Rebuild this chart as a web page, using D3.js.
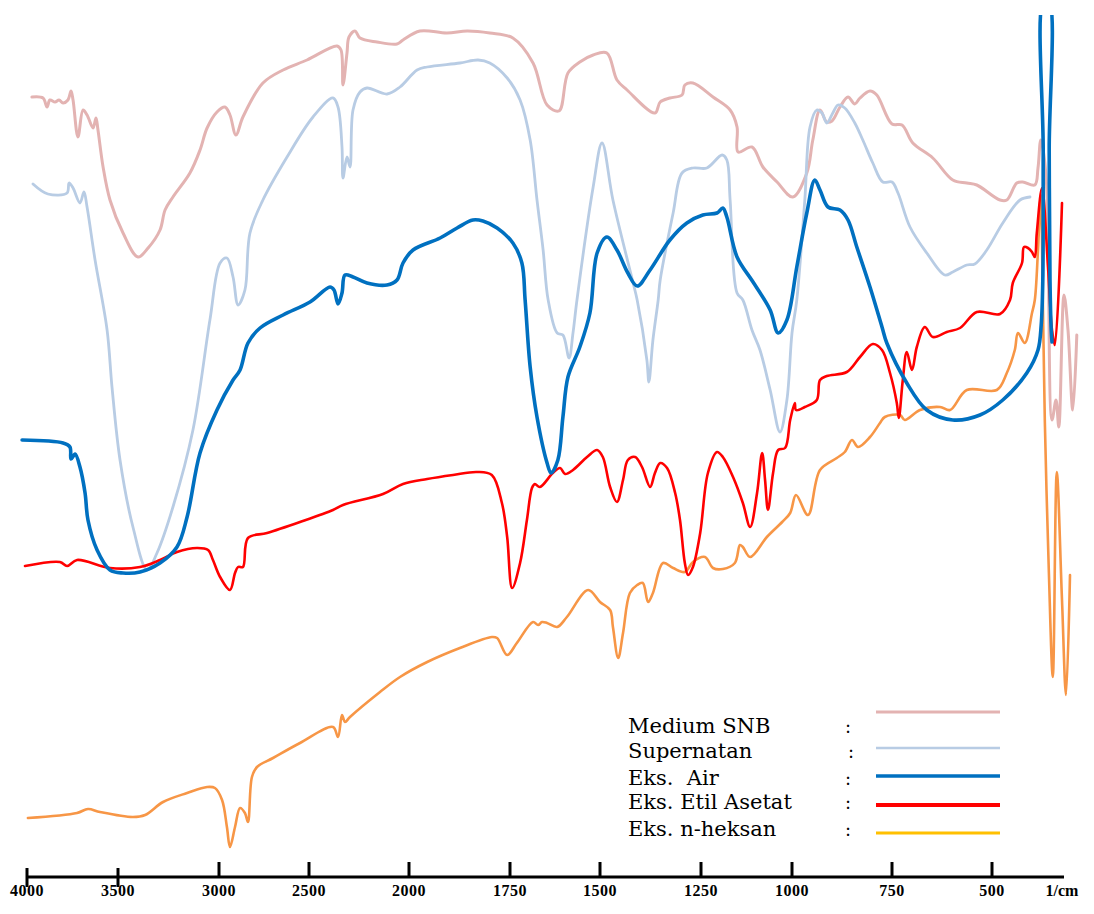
<!DOCTYPE html>
<html>
<head>
<meta charset="utf-8">
<script src="https://cdn.jsdelivr.net/npm/d3@7"></script>
<style>
  html, body { margin: 0; padding: 0; background: #ffffff; }
  svg { display: block; }
</style>
</head>
<body>
<svg id="chart" width="1094" height="914"></svg>
<script>
// ---------------- DATA ----------------
const wavenumberTicks = [4000, 3500, 3000, 2500, 2000, 1750, 1500, 1250, 1000, 750, 500];
const tickLabels = ["4000", "3500", "3000", "2500", "2000", "1750", "1500", "1250", "1000", "750", "500"];
const unitLabel = "1/cm";
const axisEndWavenumber = 320;

const seriesNames = ["Medium SNB", "Supernatan", "Eks.  Air", "Eks. Etil Asetat", "Eks. n-heksan"];

// [wavenumber (1/cm), relative transmittance]
const mediumSNB = [
  [3973,80.3],[3912,80.2],[3890,79.3],[3874,80.0],[3846,79.8],[3824,80.0],[3802,79.7],[3775,80.0],
  [3758,80.9],[3747,80.0],[3720,76.3],[3692,79.0],[3670,78.5],[3637,77.2],[3621,78.2],[3610,77.0],
  [3582,73.3],[3544,70.0],[3475,66.7],[3401,64.3],[3351,65.2],[3292,67.0],[3267,69.0],[3228,70.3],
  [3144,72.7],[3094,75.0],[3059,77.2],[3010,78.8],[2967,79.3],[2939,78.5],[2906,76.5],[2867,78.3],
  [2756,81.7],[2644,83.0],[2511,84.0],[2360,85.4],[2340,85.0],[2330,81.5],[2310,84.7],[2300,86.3],
  [2270,86.9],[2245,86.2],[2160,85.8],[2060,85.6],[2030,86.0],[1973,86.9],[1906,86.7],[1856,86.9],
  [1800,86.7],[1742,86.2],[1686,83.7],[1647,79.5],[1614,78.9],[1589,82.7],[1556,83.8],[1519,84.5],
  [1483,84.7],[1458,82.0],[1433,81.0],[1364,78.7],[1351,79.8],[1327,80.2],[1297,80.5],[1290,81.5],
  [1270,81.7],[1217,80.3],[1170,79.0],[1151,77.3],[1148,74.8],[1110,75.3],[1080,73.3],[1041,71.8],
  [998,70.3],[963,72.7],[948,76.0],[930,79.0],[913,77.8],[900,77.9],[880,79.3],[860,80.3],
  [843,79.6],[830,80.2],[805,80.9],[788,80.5],[750,77.6],[725,77.5],[698,75.7],[648,74.2],
  [598,72.0],[563,71.7],[538,71.5],[480,70.0],[463,70.0],[438,71.7],[423,71.8],[393,71.5],
  [385,73.2],[378,76.0],[365,72.5],[350,48.0],[340,50.0],[333,47.3],[320,60.5],[310,57.0],
  [298,49.0],[288,56.5]
];

const supernatan = [
  [3967,71.6],[3885,70.6],[3780,70.7],[3769,71.7],[3747,71.2],[3709,69.7],[3687,70.8],[3670,69.3],
  [3626,64.0],[3560,57.0],[3533,51.3],[3490,44.0],[3426,37.3],[3356,33.0],[3307,34.7],[3228,39.3],
  [3129,47.0],[3045,58.0],[2994,63.7],[2956,64.2],[2922,62.3],[2894,59.5],[2856,61.0],[2828,66.7],
  [2756,70.0],[2622,74.3],[2480,78.3],[2380,80.2],[2355,79.3],[2335,75.3],[2330,72.2],[2310,74.3],
  [2295,73.3],[2280,79.0],[2245,80.8],[2210,81.2],[2110,80.6],[2045,81.3],[1980,83.0],[1955,83.3],
  [1874,83.7],[1829,84.0],[1800,83.7],[1757,82.2],[1722,80.0],[1694,76.0],[1675,70.0],[1658,65.0],
  [1644,60.0],[1619,56.7],[1603,56.5],[1586,54.2],[1575,56.7],[1564,60.0],[1519,71.3],[1495,75.7],
  [1468,70.0],[1418,61.7],[1408,60.0],[1384,54.0],[1379,51.8],[1369,56.0],[1356,60.0],[1351,62.0],
  [1319,68.7],[1297,72.7],[1270,73.2],[1234,73.2],[1192,74.5],[1179,74.0],[1170,70.0],[1151,60.7],
  [1135,60.0],[1110,57.0],[1088,55.0],[1060,51.0],[1033,46.8],[1014,50.0],[1000,56.7],[988,60.0],
  [968,70.0],[955,77.3],[938,79.0],[925,78.7],[913,77.7],[898,78.7],[885,79.5],[868,79.2],
  [843,77.7],[823,76.0],[798,73.7],[773,71.8],[750,71.8],[735,70.7],[705,67.3],[663,64.7],
  [618,62.5],[598,62.8],[563,63.5],[543,63.6],[513,65.0],[473,67.7],[430,70.0],[405,70.3]
];

const eksAir = [
  [4027,46.0],[3802,45.7],[3764,45.3],[3758,44.1],[3736,44.6],[3709,43.3],[3681,40.7],[3665,38.0],
  [3615,35.0],[3544,33.0],[3475,32.7],[3391,32.8],[3292,33.7],[3208,35.3],[3158,38.3],[3094,44.7],
  [3010,49.0],[2922,52.0],[2883,53.0],[2839,55.7],[2772,57.2],[2644,58.5],[2495,59.8],[2395,61.3],
  [2375,61.0],[2355,59.6],[2335,60.7],[2320,62.5],[2280,62.3],[2210,61.7],[2110,61.5],[2060,62.0],
  [2030,63.7],[1990,65.0],[1923,66.2],[1881,67.2],[1842,68.0],[1817,67.9],[1782,67.2],[1742,65.7],
  [1717,63.7],[1708,60.0],[1694,53.3],[1675,48.3],[1647,43.7],[1636,42.7],[1617,44.0],[1603,48.3],
  [1589,52.3],[1556,55.3],[1528,58.7],[1508,64.7],[1483,66.3],[1458,65.0],[1431,62.7],[1408,61.4],
  [1376,63.0],[1327,66.0],[1285,67.7],[1245,68.5],[1206,68.7],[1190,69.2],[1179,68.3],[1151,64.3],
  [1107,61.8],[1060,59.0],[1038,56.7],[1014,58.0],[988,63.3],[963,68.7],[943,72.0],[930,71.0],
  [910,69.3],[880,69.0],[860,68.0],[838,65.3],[805,61.3],[775,57.3],[763,55.7],[713,51.7],
  [663,49.0],[598,48.0],[530,48.5],[473,50.0],[413,52.7],[385,55.0],[377,57.5],[373,62.0],
  [372,75.0],[371,90.0],[358,90.0],[357,75.0],[355,62.0],[352,57.0],[350,55.8]
];

const eksEtilAsetat = [
  [4011,33.4],[3819,33.8],[3780,33.4],[3725,34.0],[3544,33.2],[3391,33.3],[3292,34.0],[3208,34.8],
  [3109,35.2],[3054,35.0],[3030,34.0],[2994,32.3],[2939,31.0],[2911,32.7],[2894,33.3],[2867,33.3],
  [2839,36.2],[2733,36.7],[2550,37.8],[2380,39.0],[2330,39.5],[2130,40.6],[2030,41.6],[1955,42.1],
  [1891,42.5],[1832,42.8],[1795,42.5],[1770,39.7],[1757,36.3],[1744,31.2],[1722,33.7],[1703,38.0],
  [1689,41.2],[1681,41.6],[1667,41.3],[1631,42.7],[1611,43.2],[1597,42.6],[1575,43.0],[1536,44.3],
  [1508,45.0],[1493,44.3],[1475,41.3],[1458,39.8],[1443,42.0],[1431,44.0],[1413,44.3],[1396,43.3],
  [1376,41.3],[1364,42.7],[1351,43.7],[1334,43.2],[1314,40.7],[1302,38.0],[1290,33.7],[1282,32.5],
  [1270,33.3],[1252,36.7],[1231,42.7],[1206,44.8],[1190,44.3],[1162,42.3],[1135,39.7],[1115,37.3],
  [1096,40.7],[1082,44.7],[1074,42.0],[1066,39.0],[1052,42.7],[1038,45.0],[1019,45.2],[1005,48.0],
  [993,49.7],[990,49.0],[968,49.3],[938,50.0],[930,52.0],[913,52.4],[863,52.8],[830,54.3],
  [798,55.6],[775,55.0],[755,52.7],[738,49.7],[733,48.2],[723,52.0],[713,54.8],[700,53.0],
  [688,55.3],[668,57.3],[648,56.3],[613,56.8],[580,57.2],[538,58.8],[480,58.6],[455,60.0],
  [448,61.7],[425,63.7],[420,65.3],[410,65.2],[400,64.8],[393,64.3],[388,66.7],[375,71.2],
  [360,63.3],[350,57.0],[343,55.5],[325,69.7]
];

const eksNHeksan = [
  [3995,8.2],[3725,8.7],[3665,9.1],[3599,8.8],[3426,8.3],[3366,8.5],[3277,9.8],[3158,10.7],
  [3059,11.3],[3020,11.2],[2983,10.0],[2956,7.3],[2939,5.3],[2911,7.3],[2883,9.2],[2856,8.7],
  [2839,7.8],[2817,12.3],[2789,13.3],[2700,14.2],[2550,15.7],[2380,17.3],[2355,16.3],[2335,18.5],
  [2320,17.8],[2295,18.3],[2145,20.8],[2045,22.3],[1955,23.8],[1874,25.2],[1795,26.3],[1782,26.2],
  [1757,24.5],[1731,25.7],[1686,27.8],[1672,27.5],[1661,27.8],[1647,27.7],[1619,27.3],[1592,28.3],
  [1533,31.0],[1500,29.8],[1475,29.0],[1468,27.3],[1455,24.2],[1443,26.7],[1426,30.7],[1408,31.5],
  [1394,31.7],[1381,29.8],[1369,30.7],[1344,33.7],[1319,33.2],[1290,32.8],[1270,33.8],[1239,34.3],
  [1217,33.2],[1190,33.1],[1157,33.7],[1143,35.5],[1135,35.3],[1115,34.3],[1069,36.3],[1027,37.8],
  [1005,38.7],[990,40.5],[960,38.5],[930,43.0],[888,44.2],[868,44.8],[850,46.0],[835,45.3],
  [805,46.3],[780,47.7],[768,48.3],[730,48.5],[718,48.0],[680,49.0],[630,49.3],[605,49.0],
  [563,51.0],[488,51.0],[463,52.7],[443,55.0],[435,56.7],[418,55.7],[400,58.7],[393,60.0],
  [385,65.0],[378,70.5],[373,60.0],[368,48.0],[358,33.0],[348,22.3],[338,42.8],[325,30.0],
  [315,20.5],[305,32.5]
];

const seriesData = [mediumSNB, supernatan, eksAir, eksEtilAsetat, eksNHeksan];

// ---------------- STYLE / LAYOUT ----------------
const curveColors  = ["#e3b3b2", "#b8cce4", "#0070c0", "#ff0000", "#f79646"];
const legendColors = ["#e3b3b2", "#b8cce4", "#0070c0", "#ff0000", "#ffc000"];
const curveWidths  = [3, 2.8, 3.6, 2.6, 2.6];
const legendWidths = [3, 2.6, 3.6, 3.8, 3.2];
const drawOrder = [0, 1, 4, 3, 2];
const tickPx = [27, 118, 219, 309, 409, 510, 600, 701, 792, 892, 992];

const svg = d3.select("#chart");

const x = d3.scaleLinear().domain(wavenumberTicks).range(tickPx);
const y = d3.scaleLinear().domain([0, 90]).range([900, 0]);

svg.append("defs").append("clipPath").attr("id", "plotClip")
  .append("rect").attr("x", 0).attr("y", 15).attr("width", 1094).attr("height", 850);

const line = d3.line()
  .x(d => x(d[0]))
  .y(d => y(d[1]))
  .curve(d3.curveCatmullRom.alpha(0.5));

const plot = svg.append("g").attr("clip-path", "url(#plotClip)");
drawOrder.forEach(i => {
  plot.append("path")
    .datum(seriesData[i])
    .attr("fill", "none")
    .attr("stroke", curveColors[i])
    .attr("stroke-width", curveWidths[i])
    .attr("stroke-linejoin", "round")
    .attr("stroke-linecap", "round")
    .attr("d", line);
});

// ---------------- AXIS ----------------
const axisY = 877;
const axis = svg.append("g");
axis.append("line")
  .attr("x1", x(wavenumberTicks[0])).attr("x2", x(axisEndWavenumber))
  .attr("y1", axisY).attr("y2", axisY)
  .attr("stroke", "#000").attr("stroke-width", 3);

axis.selectAll("line.tick").data(wavenumberTicks).join("line")
  .attr("class", "tick")
  .attr("x1", d => x(d)).attr("x2", d => x(d))
  .attr("y1", (d, i) => i < 2 ? axisY - 9 : axisY - 15)
  .attr("y2", (d, i) => i < 2 ? axisY + 10 : axisY)
  .attr("stroke", "#000").attr("stroke-width", 3);

axis.selectAll("text.tl").data(wavenumberTicks).join("text")
  .attr("class", "tl")
  .attr("x", d => x(d))
  .attr("y", 896)
  .attr("text-anchor", "middle")
  .attr("font-family", "'Liberation Serif', 'Times New Roman', serif")
  .attr("font-weight", "bold")
  .attr("font-size", 16)
  .attr("letter-spacing", 0.5)
  .text((d, i) => tickLabels[i]);

axis.append("text")
  .attr("x", x(axisEndWavenumber) - 2)
  .attr("y", 896)
  .attr("text-anchor", "middle")
  .attr("font-family", "'Liberation Serif', 'Times New Roman', serif")
  .attr("font-weight", "bold")
  .attr("font-size", 16)
  .text(unitLabel);

// ---------------- LEGEND ----------------
const legendTextX = 628, colonX = 845, legLineX1 = 876, legLineX2 = 1000;
const legendBaseline = [733, 758, 785, 809, 836];
const legendLineY = [712, 748, 776, 805, 833];
const legend = svg.append("g");
seriesNames.forEach((name, i) => {
  legend.append("text")
    .attr("x", legendTextX).attr("y", legendBaseline[i])
    .attr("font-family", "'DejaVu Serif', serif")
    .attr("font-size", 21)
    .attr("fill", "#000")
    .style("white-space", "pre")
    .text(name);
  legend.append("text")
    .attr("x", i === 1 ? colonX + 3 : colonX).attr("y", legendBaseline[i])
    .attr("font-family", "'DejaVu Serif', serif")
    .attr("font-size", 18)
    .attr("fill", "#000")
    .text(":");
  legend.append("line")
    .attr("x1", legLineX1).attr("x2", legLineX2)
    .attr("y1", legendLineY[i]).attr("y2", legendLineY[i])
    .attr("stroke", legendColors[i])
    .attr("stroke-width", legendWidths[i]);
});
</script>
</body>
</html>
